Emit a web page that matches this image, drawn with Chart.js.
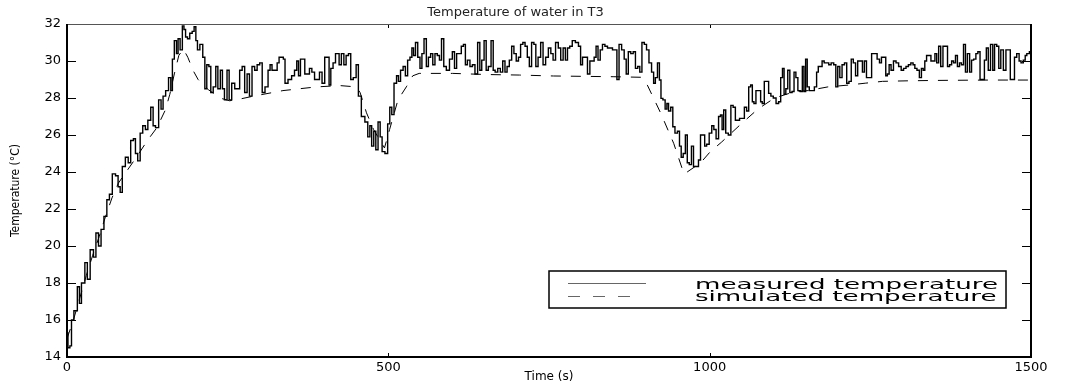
<!DOCTYPE html>
<html>
<head>
<meta charset="utf-8">
<script src="https://cdn.jsdelivr.net/npm/chart.js@4.4.0/dist/chart.umd.min.js"></script>
<style>
  html, body { margin: 0; padding: 0; background: #fff; }
  canvas { display: block; }
</style>
</head>
<body>
<canvas id="tempChart" width="1066" height="389"></canvas>
<script>
// Measured water temperature in T3, [time (s), temperature (°C)]
const measured = [
  [0,15.3],[3,14.5],[6,14.6],[8,16.0],[13.5,16.5],[18.7,17.8],[20,16.9],[25,18.0],[30.6,19.1],[32.7,18.2],
  [39.4,19.8],[43,19.4],[47,20.7],[51,20.0],[55,20.9],[60,21.6],[64,22.5],[68,22.8],[73,23.9],[78,23.8],
  [81,23.2],[84.5,22.9],[87.6,24.3],[94,24.8],[96.5,24.5],[101.7,25.7],[105,25.8],[108,25.0],[112,24.6],[115.7,26.1],
  [120,26.5],[124,26.3],[127.6,26.8],[133,27.5],[135,26.5],[140.5,26.4],[144.7,27.9],[148,27.4],[151,28.1],[156,28.4],
  [160,29.1],[163,28.4],[165,30.1],[169,31.1],[171.7,30.4],[174,31.2],[178,30.6],[181,31.9],[183,31.7],[186,31.3],
  [189,31.2],[193,31.5],[196.6,31.6],[199,31.85],[202,31.1],[204,30.6],[209.5,30.9],[213,30.2],
  [216,28.5],[219,29.8],[222.5,29.7],[225,28.3],[230,28.6],[233,29.7],[236.5,28.5],[240.7,29.5],[243,28.5],[247,27.9],
  [251,29.5],[253.6,27.9],[259,28.8],[263,28.5],[266.6,28.5],[270.7,29.5],[274.4,29.7],[278.5,28.3],[282,29.3],[285.8,28.1],
  [290,29.7],[294,29.5],[297.7,29.8],[302,29.9],[305.5,28.3],[310.7,28.6],[315,29.5],[317,29.8],[321,29.5],[325,29.5],
  [329,29.9],[331,30.2],[335.6,30.2],[337.7,30.1],[340.8,28.8],[347,29.0],[352,29.2],[356,29.5],[359,30.0],[361.5,29.2],
  [365,30.1],[369,30.1],[371,29.3],[375.5,29.3],[379,29.6],[383,29.4],[387.4,29.0],[391,29.0],[394.7,29.4],[399,28.8],
  [403,30.2],[406.6,30.2],[409,28.7],[412,29.6],[416,29.9],[419.6,30.4],[422,30.4],[424.8,29.8],[429,30.4],[432.6,29.8],
  [436,30.3],[440,30.4],[443,29.0],[448,29.1],[451.8,29.8],[455,28.1],[461,27.0],[466,26.7],[470,25.9],[472.5,26.5],
  [475.6,25.4],[479,26.2],[482,25.2],[486,26.7],[488.6,25.9],[492,25.1],[497.4,25.0],
  [500.5,26.6],[504,27.5],[506.7,27.1],[511,28.8],[514.6,29.2],[517,28.9],[521,29.5],[525,29.7],[528,29.2],[532,30.05],
  [535.3,30.2],[538,30.7],[540.5,30.3],[544,31.0],[547.5,30.2],[551,29.6],[553.5,30.4],[557.6,31.2],[560.7,29.7],[564,30.2],
  [567.6,30.4],[570.7,29.8],[574.4,30.4],[578,30.3],[581,30.05],[584.5,31.2],[588,29.7],[592.5,29.5],[597.8,30.1],[601.4,30.5],
  [604.5,29.6],[608,30.4],[612,30.4],[615,30.8],[618.8,30.9],[621,29.8],[625,30.05],[629,29.7],[632.7,29.8],[636.9,29.3],
  [641,31.0],[643.7,29.5],[647,30.05],[651,31.1],[653.5,29.5],[657.7,29.7],[662,31.1],[664.4,29.5],[668,29.4],[672.5,29.6],
  [676,29.4],[680,30.0],[683,29.4],[686.5,29.7],[690,30.05],[693.8,30.8],[697,30.4],[701,30.0],[704,30.2],[707.6,30.9],
  [711,31.0],[714.5,30.8],[718,30.2],[720.8,29.7],[725,31.0],[728,30.9],[731,29.7],[735,30.2],[739,31.0],[742.5,29.8],
  [747,30.2],[751,30.7],[754.7,30.4],[758,30.05],[762.4,31.0],[766.5,30.7],[770,30.05],[774,30.7],[777,30.05],[780.5,30.7],
  [784,30.8],[788.4,31.1],[793.7,31.0],[798,30.8],[800.3,29.8],[804,30.2],[808,30.2],[811.7,29.3],[815.5,30.0],[818.5,30.0],
  [822,30.2],[824.5,30.8],[828,30.05],[831.4,30.6],[835,30.9],[839,30.8],[843,30.7],[847,30.7],[850.6,30.6],[854.3,30.6],
  [857,29.0],[861,30.9],[865,30.6],[869,30.1],[871.3,29.3],[875.5,30.5],[879,30.4],[883,30.5],[886,29.6],[890,29.7],
  [892.5,29.4],[896.7,31.0],[900,30.9],[903.5,30.6],[907.6,29.9],[911.6,29.4],[914,28.8],[917,29.1],[920.6,29.9],[923,28.97],
  [925.5,27.98],[929,27.9],[932.4,27.4],[934.5,27.7],[937.5,27.3],[941.3,27.5],[944,26.45],[948,26.1],[951.7,26.2],[954.4,25.4],
  [957,24.8],[960.6,25.0],[963.8,26.0],[966.5,24.5],[970,24.4],[973.3,25.4],[976.4,24.3],[980.5,24.3],[984.7,24.65],[986.8,26.0],
  [991,26.0],[993.5,25.4],
  [997,25.5],[1001.5,26.1],[1005,26.5],[1008,26.3],[1012,25.8],[1015.7,27.0],[1018,27.08],[1020.7,26.3],[1023,27.35],[1027,26.1],
  [1031,26.0],[1035,27.6],[1038,27.5],[1042,26.8],[1045,26.8],[1048,26.9],[1052,26.9],[1056,27.5],[1059,27.3],[1062.5,28.6],
  [1065,28.7],[1067.8,27.8],[1070,27.7],[1074,28.4],[1078,28.4],[1080.6,27.8],[1083,27.7],[1087,28.9],[1090,28.9],[1093.5,28.25],
  [1097,28.1],[1101,28.0],[1105.6,27.7],[1109,27.8],[1112,29.1],[1114.6,29.6],[1117,28.2],[1120,28.5],[1123,29.5],[1126.5,28.3],
  [1130,28.35],[1132.6,29.4],[1135.7,29.1],[1138.8,28.4],[1143,28.35],[1145.4,29.7],[1148,28.35],[1150.6,30.1],[1153,28.6],[1157,28.4],
  [1161,28.4],[1164.8,28.6],[1168,29.4],[1170,29.7],[1173,29.7],[1176.9,30.0],[1179.5,29.9],[1183.6,29.9],[1187,29.8],[1191,29.9],
  [1195,29.8],[1197.6,28.6],[1201,29.7],[1204,29.1],[1208,29.8],[1211.6,29.9],[1214.9,28.8],[1218.6,28.9],[1222,30.1],[1225,29.9],
  [1229,29.2],[1231.7,30.0],[1236,30.0],[1239.4,29.4],[1242,30.0],[1246,29.1],[1250,29.1],
  [1254,30.4],[1258.6,30.4],[1262.5,30.1],[1266,29.9],[1268.6,30.2],[1273,30.2],[1275,29.2],[1278,29.3],[1280.5,29.8],[1284,29.5],
  [1288,30.0],[1292,29.9],[1296,29.7],[1300,29.5],[1303.5,29.6],[1307.5,29.7],[1311,29.8],[1315,29.9],[1318,29.8],[1320.5,29.6],
  [1324.6,29.5],[1328,29.1],[1331,29.6],[1333.5,29.5],[1336,30.0],[1339,30.3],[1342.6,30.3],[1346,30.0],[1349,30.0],[1352,30.4],
  [1354.6,29.9],[1358,30.8],[1361,29.7],[1365,30.8],[1368.6,30.8],[1371.6,29.7],[1375,29.8],[1378,30.0],[1381,29.9],[1384,30.3],
  [1387,29.7],[1390.5,29.9],[1393,29.8],[1397,30.9],[1399,29.4],[1403,30.4],[1406,29.4],[1409,30.05],[1412.5,30.1],[1416,30.4],
  [1418.6,30.5],[1422.8,29.0],[1426,29.0],[1429,30.05],[1432,30.7],[1435,29.5],[1439,30.9],[1442,29.5],[1444.6,30.9],[1448.7,30.8],
  [1451,29.6],[1455,30.6],[1459,29.5],[1463,30.6],[1466,30.6],[1469.6,29.0],[1473,29.0],[1475.6,30.2],[1480,30.4],[1483,30.0],
  [1486,29.9],[1490,30.05],[1492,30.3],[1495,30.4],[1500,30.5]
];

// Simulated temperature, [time (s), temperature (°C)]
const simulated = [
  [0,15.0],[10,16.0],[20,17.2],[30,18.4],[40,19.5],[50,20.5],[60,21.6],[70,22.6],[80,23.4],[94,24.1],
  [110,24.9],[125,25.7],[140,26.4],[153,27.35],[160,28.2],[167,29.3],[174,30.3],[181,30.65],[188,30.2],[196,29.5],
  [204,29.0],[212,28.7],[220,28.45],[228,28.25],[238,28.0],[253,27.85],[270,27.95],[290,28.1],[336,28.4],[388,28.6],
  [425,28.67],[450,28.6],[456,28.3],[466,27.2],[477,26.3],[487,25.7],[494,25.3],[502,26.3],[515,27.9],[528,28.6],
  [538,29.2],[548,29.33],[600,29.33],[652,29.27],[704,29.24],[757,29.19],[851,29.15],[893,29.12],[903,28.7],[924,27.17],
  [944,25.55],[960,23.9],[965,24.0],[986,24.5],[1001,25.1],[1018,25.6],[1049,26.6],[1075,27.4],[1101,28.0],[1133,28.35],
  [1153,28.4],[1184,28.6],[1216,28.7],[1242,28.8],[1269,28.9],[1310,28.93],[1352,28.95],[1435,28.97],[1500,28.97]
];

const xTicks = [0, 500, 1000, 1500];
const yTicks = [14, 16, 18, 20, 22, 24, 26, 28, 30, 32];
const seriesNames = ['measured temperature', 'simulated temperature'];

const SANS = '"DejaVu Sans", "Liberation Sans", Arial, sans-serif';
const NARROW = '"Liberation Sans Narrow", "DejaVu Sans Condensed", "Liberation Sans", Arial, sans-serif';

function toPoints(rows) {
  return rows.map(r => ({ x: r[0], y: r[1] }));
}

// MATLAB style frame: box, inward ticks on all sides, legend inside the axes
const matlabFrame = {
  id: 'matlabFrame',
  afterDraw(chart) {
    const ctx = chart.ctx;
    const a = chart.chartArea;
    const xs = chart.scales.x;
    const ys = chart.scales.y;
    ctx.save();

    // inward ticks
    ctx.strokeStyle = '#000';
    ctx.lineWidth = 1;
    ctx.beginPath();
    yTicks.forEach(v => {
      const py = Math.round(ys.getPixelForValue(v)) + 0.5;
      ctx.moveTo(a.left, py); ctx.lineTo(a.left + 9, py);
      ctx.moveTo(a.right, py); ctx.lineTo(a.right - 9, py);
    });
    xTicks.forEach(v => {
      const px = Math.round(xs.getPixelForValue(v)) + 0.5;
      ctx.moveTo(px, a.bottom); ctx.lineTo(px, a.bottom - 4);
      ctx.moveTo(px, a.top); ctx.lineTo(px, a.top + 4);
    });
    ctx.stroke();

    // box
    ctx.strokeStyle = '#555';
    ctx.lineWidth = 1;
    ctx.beginPath();
    ctx.moveTo(a.left, a.top + 0.5); ctx.lineTo(a.right, a.top + 0.5);
    ctx.stroke();
    ctx.strokeStyle = '#000';
    ctx.lineWidth = 2;
    ctx.beginPath();
    ctx.moveTo(a.left, a.top); ctx.lineTo(a.left, a.bottom);
    ctx.lineTo(a.right, a.bottom); ctx.lineTo(a.right, a.top);
    ctx.stroke();

    // legend
    const lx = a.left + 482, ly = a.top + 247, lw = 457, lh = 37;
    ctx.fillStyle = '#fff';
    ctx.fillRect(lx, ly, lw, lh);
    ctx.strokeStyle = '#000';
    ctx.lineWidth = 1.5;
    ctx.strokeRect(lx, ly, lw, lh);

    ctx.strokeStyle = '#666';
    ctx.lineWidth = 1;
    ctx.beginPath();
    ctx.moveTo(lx + 19, ly + 12.5); ctx.lineTo(lx + 97, ly + 12.5);
    ctx.stroke();
    ctx.setLineDash([12, 13]);
    ctx.beginPath();
    ctx.moveTo(lx + 19, ly + 25.5); ctx.lineTo(lx + 86, ly + 25.5);
    ctx.stroke();
    ctx.setLineDash([]);

    ctx.fillStyle = '#000';
    ctx.font = '14px ' + SANS;
    ctx.textBaseline = 'alphabetic';
    ctx.textAlign = 'left';
    const sx = 303 / ctx.measureText(seriesNames[0]).width;
    [18, 30].forEach((dy, i) => {
      ctx.save();
      ctx.translate(lx + 146, ly + dy);
      ctx.scale(sx, 1);
      ctx.fillText(seriesNames[i], 0, 0);
      ctx.restore();
    });

    ctx.restore();
  }
};

const chart = new Chart(document.getElementById('tempChart'), {
  type: 'line',
  data: {
    datasets: [
      {
        label: seriesNames[0],
        data: toPoints(measured),
        borderColor: '#000',
        borderWidth: 1.4,
        pointRadius: 0,
        stepped: 'middle',
        fill: false
      },
      {
        label: seriesNames[1],
        data: toPoints(simulated),
        borderColor: '#000',
        borderWidth: 1,
        borderDash: [10, 10],
        pointRadius: 0,
        tension: 0,
        fill: false
      }
    ]
  },
  options: {
    responsive: false,
    animation: false,
    devicePixelRatio: 1,
    layout: { padding: { left: 0, right: 35, top: 0, bottom: 0 } },
    plugins: {
      legend: { display: false },
      tooltip: { enabled: false },
      title: {
        display: true,
        text: 'Temperature of water in T3',
        color: '#222',
        font: { family: SANS, size: 13, weight: 'normal', lineHeight: 1.2 },
        padding: { top: 5, bottom: 3.4 }
      }
    },
    scales: {
      x: {
        type: 'linear',
        min: 0,
        max: 1500,
        afterFit: s => { s.height = 32; },
        afterBuildTicks: s => { s.ticks = xTicks.map(v => ({ value: v })); },
        grid: { display: false, drawTicks: false },
        border: { display: false },
        ticks: {
          color: '#000',
          padding: 3,
          maxRotation: 0,
          font: { family: SANS, size: 13 },
          callback: v => String(v)
        },
        title: {
          display: true,
          text: 'Time (s)',
          color: '#000',
          font: { family: SANS, size: 12, lineHeight: 1.2 },
          padding: { top: 0, bottom: 4.8 }
        }
      },
      y: {
        min: 14,
        max: 32,
        afterFit: s => { s.width = 67; },
        afterBuildTicks: s => { s.ticks = yTicks.map(v => ({ value: v })); },
        grid: { display: false, drawTicks: false },
        border: { display: false },
        ticks: {
          color: '#000',
          padding: 6,
          font: { family: SANS, size: 13 },
          callback: v => String(v)
        },
        title: {
          display: true,
          text: 'Temperature (°C)',
          color: '#000',
          font: { family: NARROW, size: 12, lineHeight: 1.2 },
          padding: { top: 9, bottom: 0 }
        }
      }
    }
  },
  plugins: [matlabFrame]
});
</script>
</body>
</html>
